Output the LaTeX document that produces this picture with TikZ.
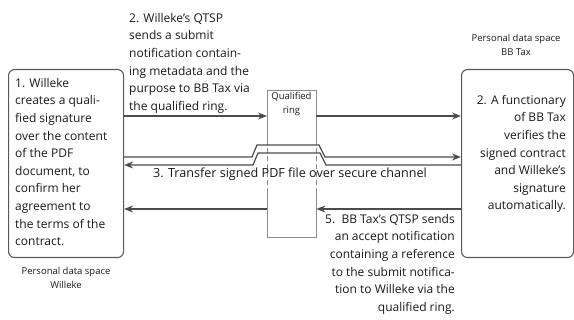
\documentclass[tikz,border=0pt]{standalone}
\usepackage{fontspec}
\setmainfont{Open Sans}
\usetikzlibrary{arrows.meta}
\begin{document}
\begin{tikzpicture}[x=1pt,y=-1pt,
    every node/.style={inner sep=0pt,text=black!90},
    space/.style={draw=black!65,line width=1.1pt,rounded corners=6pt},
    ringline/.style={draw=black!45,line width=0.8pt},
    msg/.style={draw=black!70,line width=1.2pt},
    tip/.style={-{Stealth[length=9pt,width=7pt]}},
    body/.style={font=\fontsize{12}{17.6}\selectfont},
    small/.style={font=\fontsize{9.5}{14.5}\selectfont,align=center}]
  \useasboundingbox (0,0) rectangle (574,320);
  % personal data spaces and the ring
  \node[space,minimum width=115pt,minimum height=188pt,anchor=north west] (willeke) at (8,69) {};
  \node[space,minimum width=112pt,minimum height=188pt,anchor=north west] (bbtax) at (461,69) {};
  \node[minimum width=49pt,minimum height=147pt,anchor=north west] (ring) at (267,90) {};
  \coordinate (d1) at (0,140);
  \coordinate (d2) at (0,190);
  \draw[ringline] (ring.west |- d1) -- (ring.north west) -- (ring.north east) -- (ring.east |- d1);
  \draw[ringline] (ring.west |- d2) -- (ring.south west) -- (ring.south east) -- (ring.east |- d2);
  \begin{scope}[ringline,dash pattern=on 5pt off 3pt]
    \draw (ring.west |- d1) -- (ring.west |- d2);
    \draw (ring.east |- d1) -- (ring.east |- d2);
  \end{scope}
  \node[font=\fontsize{9.5}{14.5}\selectfont,align=center,anchor=north] (ringtxt) at (291.5,92) {Qualified\\ring};
  % messages
  \coordinate (m1) at (0,116);
  \coordinate (up) at (0,157);
  \coordinate (lo) at (0,165);
  \coordinate (m5) at (0,209);
  \begin{scope}[msg,tip]
    \draw (willeke.east |- m1) -- (ring.west |- m1);
    \draw (ring.east |- m1) -- (bbtax.west |- m1);
    \draw (willeke.east |- up) -- (252,157) -- (257,145) -- (319,145) -- (325,157) -- (bbtax.west |- up);
    \draw (bbtax.west |- lo) -- (326,165) -- (320,153) -- (258,153) -- (253,165) -- (willeke.east |- lo);
    \draw (ring.west |- m5) -- (willeke.east |- m5);
    \draw (bbtax.west |- m5) -- (ring.east |- m5);
  \end{scope}
  % texts
  \node[body,align=left,anchor=north west] (step1) at (15,78) {1. Willeke\\creates a quali-\\fied signature\\over the content\\of the PDF\\document, to\\confirm her\\agreement to\\the terms of the\\contract.};
  \node[body,align=left,anchor=north west] (step2) at (129,13) {2. Willeke’s QTSP\\sends a submit\\notification contain-\\ing metadata and the\\purpose to BB Tax via\\the qualified ring.};
  \node[body,align=right,anchor=north east] (check) at (566,95) {2. A functionary\\of BB Tax\\verifies the\\signed contract\\and Willeke’s\\signature\\automatically.};
  \node[body,font=\fontsize{12.6}{17.6}\selectfont,anchor=north] (step3) at (290,168) {3. Transfer signed PDF file over secure channel};
  \node[body,align=right,anchor=north east] (step5) at (455,214) {5.\ \ BB Tax’s QTSP sends\\an accept notification\\containing a reference\\to the submit notifica-\\tion to Willeke via the\\qualified ring.};
  \node[small,anchor=north] (pdsw) at (66,267) {Personal data space\\Willeke};
  \node[small,anchor=north] (pdsb) at (516,34) {Personal data space\\BB Tax};
\end{tikzpicture}
\end{document}
